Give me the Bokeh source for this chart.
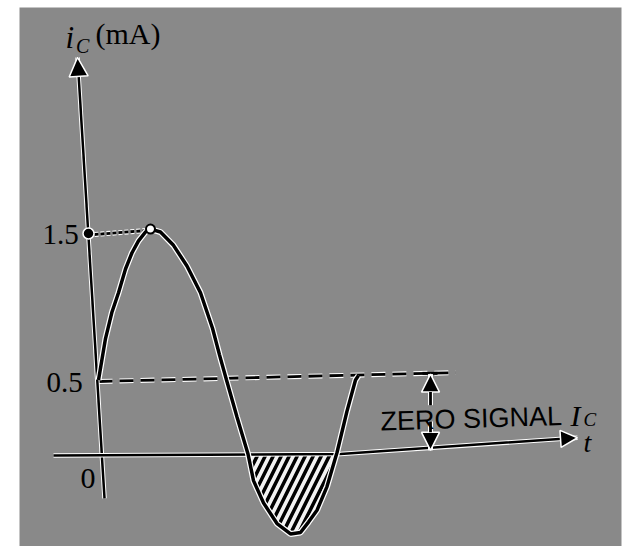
from bokeh.plotting import figure
from bokeh.models import Arrow, NormalHead, Label, Range1d
from bokeh.embed import file_html
from bokeh.resources import INLINE

# ---- data (t in arbitrary time units, i_C in mA) ----
t_curve = [-0.08, 0.06, 0.19, 0.32, 0.46, 0.59, 0.72, 0.86, 0.96, 1.16, 1.42,
           1.69, 1.96, 2.20, 2.34, 2.48, 2.69, 2.91, 3.02, 3.22, 3.49, 3.76,
           3.96, 4.12, 4.29, 4.49, 4.69, 4.89, 5.06, 5.12]
ic_curve = [0.51, 0.79, 0.97, 1.10, 1.26, 1.37, 1.45, 1.51, 1.53, 1.51, 1.42,
            1.28, 1.10, 0.86, 0.68, 0.51, 0.26, 0.01, -0.17, -0.32, -0.46, -0.53,
            -0.52, -0.45, -0.37, -0.21, 0.02, 0.30, 0.51, 0.54]
zero_signal_ic = 0.5
peak_ic = 1.5
tick_values = [1.5, 0.5, 0.0]
tick_labels = ["1.5", "0.5", "0"]

# ---- diagram geometry (axes drawn by hand, slightly skewed like the scan) ----
yaxis_t = [0.04, -0.50]
yaxis_ic = [-0.29, 2.69]
xaxis_t = [-0.98, 4.76, 9.50]
xaxis_ic = [0.00, 0.01, 0.12]
dash_t = [-0.08, 7.06]
dash_ic = [0.50, 0.56]
peak_t = 0.96
peak_dot_t = -0.28
dim_t = 6.56

BG = "#898989"
W, H = 626, 546
p = figure(width=W, height=H, output_backend="svg", toolbar_location=None,
           x_range=Range1d(-1.66, 10.38), y_range=Range1d(-0.6149, 3.027),
           min_border_left=19, min_border_right=5, min_border_top=7,
           min_border_bottom=0, background_fill_color=BG,
           border_fill_color="white", outline_line_color=None)
p.axis.visible = False
p.grid.visible = False

HALO = "white"

# hatched negative half-cycle
i0 = 17
i1 = 26
neg = [min(v, 0.0) for v in ic_curve[i0:i1 + 1]]
p.varea(x=t_curve[i0:i1 + 1], y1=0.0, y2=neg, fill_color="#f2f2f2",
        hatch_pattern="/", hatch_color="black", hatch_scale=16, hatch_weight=3.5)

# zero-signal dashed level
p.line(dash_t, dash_ic, line_color=HALO, line_width=5, line_dash="14 7")
p.line(dash_t, dash_ic, line_color="black", line_width=2.8, line_dash="14 7")

# dotted peak level
p.line([peak_dot_t, peak_t - 0.08], [peak_ic - 0.01, peak_ic + 0.02],
       line_color=HALO, line_width=5, line_dash="4 2")
p.line([peak_dot_t, peak_t - 0.08], [peak_ic - 0.01, peak_ic + 0.02],
       line_color="black", line_width=2.8, line_dash="4 2")

# axes
p.line(yaxis_t, yaxis_ic, line_color=HALO, line_width=4.5)
p.line(yaxis_t, yaxis_ic, line_color="black", line_width=2.5)
p.line(xaxis_t, xaxis_ic, line_color=HALO, line_width=4.5)
p.line(xaxis_t, xaxis_ic, line_color="black", line_width=2.5)
p.add_layout(Arrow(x_start=yaxis_t[0], y_start=yaxis_ic[0], x_end=yaxis_t[1],
                   y_end=yaxis_ic[1], line_width=0, line_alpha=0,
                   end=NormalHead(size=19, fill_color="black",
                                  line_color=HALO, line_width=1.5)))
p.add_layout(Arrow(x_start=xaxis_t[1], y_start=xaxis_ic[1], x_end=xaxis_t[2],
                   y_end=xaxis_ic[2], line_width=0, line_alpha=0,
                   end=NormalHead(size=17, fill_color="black",
                                  line_color=HALO, line_width=1.5)))

# signal curve
p.line(t_curve, ic_curve, line_color=HALO, line_width=6)
p.line(t_curve, ic_curve, line_color="black", line_width=3.5)

# dots
p.scatter([peak_dot_t], [peak_ic], size=11, fill_color="black",
          line_color=HALO, line_width=1.5)
p.scatter([peak_t], [peak_ic + 0.03], size=9, fill_color="white",
          line_color="black", line_width=2)

# zero-signal dimension arrows
p.line([dim_t - 0.16, dim_t + 0.14], [0.555, 0.555], line_color="black", line_width=3)
for ys, ye in [(0.34, 0.55), (0.23, 0.035)]:
    p.line([dim_t, dim_t], [ys, ye], line_color=HALO, line_width=5)
    p.add_layout(Arrow(x_start=dim_t, y_start=ys, x_end=dim_t, y_end=ye,
                       line_color="black", line_width=2.8,
                       end=NormalHead(size=18, fill_color="black",
                                      line_color=HALO, line_width=1.5)))

SERIF = "Liberation Serif"
SANS = "Liberation Sans"


def lab(x, y, text, size, font=SERIF, style="normal", align="left",
        baseline="alphabetic", angle=0.0):
    p.add_layout(Label(x=x, y=y, text=text, text_font=font,
                       text_font_size=f"{size}px", text_font_style=style,
                       text_align=align, text_baseline=baseline,
                       text_color="black", angle=angle))


# tick labels
tick_dx = {"1.5": -0.84, "0.5": -0.76, "0": -0.29}
tick_dy = {"1.5": -0.01, "0.5": -0.01, "0": -0.155}
for v, s in zip(tick_values, tick_labels):
    lab(tick_dx[s], v + tick_dy[s], s, 30 if s == "0" else 29,
        align="center", baseline="middle")

# axis titles
lab(-0.74, 2.824, "i", 31, style="italic")
lab(-0.53, 2.77, "C", 20, style="italic")
lab(-0.14, 2.851, "(mA)", 30)
lab(9.62, 0.09, "t", 28, style="italic")

# zero-signal annotation
lab(5.56, 0.23, "ZERO SIGNAL", 27, font=SANS, angle=0.03)
lab(9.36, 0.27, "I", 30, style="italic")
lab(9.62, 0.245, "C", 19, style="italic")

open("out.html", "w").write(file_html(p, INLINE))
